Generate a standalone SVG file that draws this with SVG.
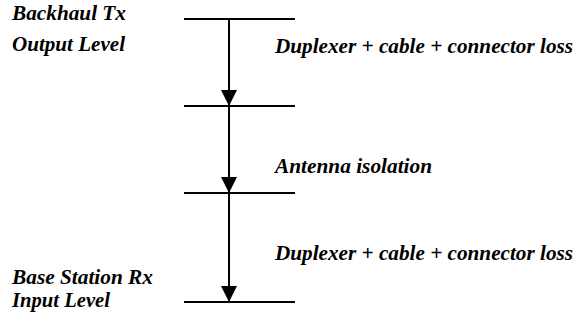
<svg xmlns="http://www.w3.org/2000/svg" width="576" height="325" viewBox="0 0 576 325">
<style>
.t{font-family:"Liberation Serif","Times New Roman",serif;font-weight:bold;font-style:italic;font-size:21px;fill:#000}
.lvl{stroke:#000;stroke-width:2;fill:none}
.conn{stroke:#000;stroke-width:2;fill:none}
</style>
<defs>
<marker id="ah" markerUnits="userSpaceOnUse" markerWidth="16" markerHeight="16" viewBox="0 0 16 16" refX="16" refY="8" orient="auto">
<path d="M0,0 L16,8 L0,16 Z" fill="#000"/>
</marker>
</defs>
<rect width="576" height="325" fill="#fff"/>
<g id="level-tx">
<line class="lvl" x1="184" y1="19" x2="295" y2="19"/>
<text class="t" x="12" y="20" textLength="114" lengthAdjust="spacingAndGlyphs">Backhaul Tx</text>
<text class="t" x="12" y="51" textLength="113" lengthAdjust="spacingAndGlyphs">Output Level</text>
</g>
<g id="level-2">
<line class="lvl" x1="184" y1="106" x2="295" y2="106"/>
</g>
<g id="level-3">
<line class="lvl" x1="184" y1="193" x2="295" y2="193"/>
</g>
<g id="level-rx">
<line class="lvl" x1="184" y1="302" x2="295" y2="302"/>
<text class="t" x="12" y="284" textLength="141" lengthAdjust="spacingAndGlyphs">Base Station Rx</text>
<text class="t" x="12" y="307" textLength="98" lengthAdjust="spacingAndGlyphs">Input Level</text>
</g>
<g id="connectors">
<line class="conn" x1="229" y1="19" x2="229" y2="106" marker-end="url(#ah)"/>
<line class="conn" x1="229" y1="106" x2="229" y2="193" marker-end="url(#ah)"/>
<line class="conn" x1="229" y1="193" x2="229" y2="302" marker-end="url(#ah)"/>
<text class="t" x="275" y="53" textLength="298" lengthAdjust="spacingAndGlyphs">Duplexer + cable + connector loss</text>
<text class="t" x="275" y="173" textLength="157" lengthAdjust="spacingAndGlyphs">Antenna isolation</text>
<text class="t" x="275" y="260" textLength="298" lengthAdjust="spacingAndGlyphs">Duplexer + cable + connector loss</text>
</g>
</svg>
